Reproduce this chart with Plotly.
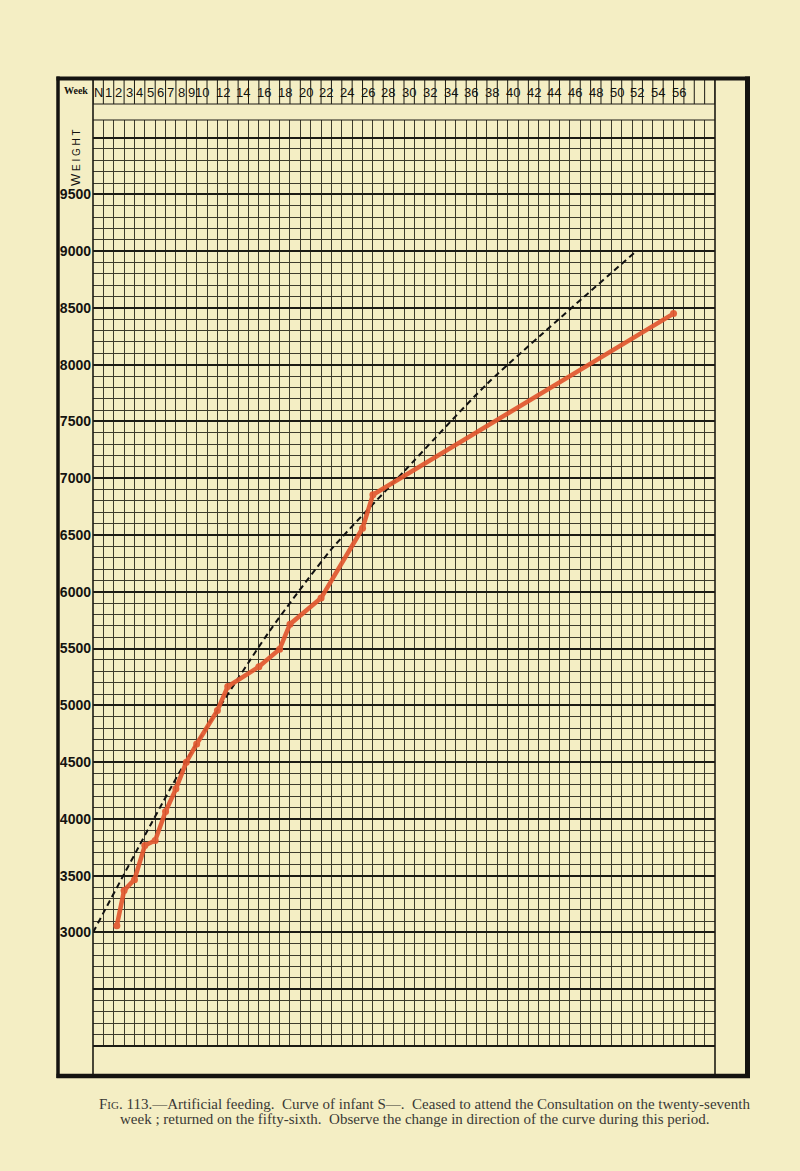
import plotly.graph_objects as go

# ---------------- data ----------------
weeks_infant = [2.3, 3, 4, 5, 6, 7, 8, 9, 10, 12, 13, 16, 18, 19, 22, 26, 27, 56]
weight_infant = [3060, 3370, 3465, 3765, 3810, 4065, 4265, 4500, 4660, 4955, 5165,
                 5340, 5495, 5715, 5945, 6560, 6855, 8450]

weeks_normal = [0, 9, 17, 23, 30, 38, 52.4]
weight_normal = [3000, 4515, 5650, 6375, 7060, 7830, 9000]

header_weeks = [0, 1, 2, 3, 4, 5, 6, 7, 8, 9, 10, 12, 14, 16, 18, 20, 22, 24, 26, 28,
                30, 32, 34, 36, 38, 40, 42, 44, 46, 48, 50, 52, 54, 56]
header_labels = ["N", "1", "2", "3", "4", "5", "6", "7", "8", "9", "10", "12", "14", "16",
                 "18", "20", "22", "24", "26", "28", "30", "32", "34", "36", "38", "40",
                 "42", "44", "46", "48", "50", "52", "54", "56"]

weight_ticks = [2000, 2500, 3000, 3500, 4000, 4500, 5000, 5500, 6000, 6500, 7000,
                7500, 8000, 8500, 9000, 9500, 10000]
weight_labels = ["", "", "3000", "3500", "4000", "4500", "5000", "5500", "6000", "6500",
                 "7000", "7500", "8000", "8500", "9000", "9500", ""]

caption_1 = ("F<span style='font-size:11px'>IG</span>. 113.—Artificial feeding.  Curve of infant S—.  "
             "Ceased to attend the Consultation on the twenty-seventh")
caption_2 = "week ; returned on the fifty-sixth.  Observe the change in direction of the curve during this period."

# ---------------- layout geometry ----------------
W, H = 800, 1171
L, R = 93, 715
T, B = 120, 1046
N_COLS = 60
Y_TOP = 10155

def px(x):
    return (x - L) / (R - L)

def py(y):
    return (B - y) / (B - T)

PAPER = "#F4EEC4"
GRID = "#3d3b2c"
HEAVY = "#1c1b14"
INK = "#141310"
SANS = "Liberation Sans Narrow, Liberation Sans, Arial, sans-serif"

minor_vals = [v for v in range(2100, 10100, 100) if v % 500 != 0]

fig = go.Figure()
fig.add_trace(go.Scatter(
    x=weeks_normal, y=weight_normal, mode="lines",
    line=dict(color="#111111", width=2, dash="6px,4px", shape="spline", smoothing=0.6),
    hoverinfo="skip", showlegend=False))
fig.add_trace(go.Scatter(
    x=weeks_infant, y=weight_infant, mode="lines+markers",
    line=dict(color="#E2572F", width=4.5),
    marker=dict(color="#E2572F", size=7),
    opacity=0.92, showlegend=False))

shapes = []
# header cell dividers
for k in range(N_COLS + 1):
    shapes.append(dict(type="line", xref="x", yref="paper", x0=k, x1=k,
                       y0=py(104), y1=py(79), line=dict(color=HEAVY, width=1)))
# header bottom, grid top and bottom
shapes.append(dict(type="line", xref="paper", yref="paper", x0=0, x1=1, y0=py(104), y1=py(104),
                   line=dict(color=HEAVY, width=1.2)))
shapes.append(dict(type="line", xref="paper", yref="paper", x0=0, x1=1, y0=1, y1=1,
                   line=dict(color=HEAVY, width=1)))
shapes.append(dict(type="line", xref="paper", yref="paper", x0=0, x1=1, y0=0, y1=0,
                   line=dict(color=HEAVY, width=2.2)))
# inner verticals
for xv in (L, R):
    shapes.append(dict(type="line", xref="paper", yref="paper", x0=px(xv), x1=px(xv),
                       y0=py(1076), y1=py(79), line=dict(color=HEAVY, width=1.6)))
# thick frame
shapes.append(dict(type="line", xref="paper", yref="paper", x0=px(56.5), x1=px(750), y0=py(78.5), y1=py(78.5),
                   line=dict(color=INK, width=4)))
shapes.append(dict(type="line", xref="paper", yref="paper", x0=px(56.5), x1=px(750), y0=py(1076), y1=py(1076),
                   line=dict(color=INK, width=4.5)))
shapes.append(dict(type="line", xref="paper", yref="paper", x0=px(58), x1=px(58), y0=py(1078), y1=py(76.5),
                   line=dict(color=INK, width=3.5)))
shapes.append(dict(type="line", xref="paper", yref="paper", x0=px(747.5), x1=px(747.5), y0=py(1078), y1=py(76.5),
                   line=dict(color=INK, width=5)))

annotations = []
for wk, lab in zip(header_weeks, header_labels):
    annotations.append(dict(x=wk + 0.5, xref="x", y=py(92), yref="paper", text=lab,
                            showarrow=False, xanchor="center", yanchor="middle",
                            font=dict(family=SANS, size=13, color=INK)))
annotations.append(dict(x=px(76), y=py(91), xref="paper", yref="paper", text="<b>Week</b>",
                        showarrow=False, xanchor="center", yanchor="middle",
                        font=dict(family="Liberation Serif, serif", size=10, color=INK)))
annotations.append(dict(x=px(75), y=py(158), xref="paper", yref="paper",
                        text="W<span style='font-size:10px'> E I G H T</span>", textangle=-90,
                        showarrow=False, xanchor="center", yanchor="middle",
                        font=dict(family="Liberation Sans, sans-serif", size=13, color=INK)))
annotations.append(dict(x=px(97), y=py(1104), xref="paper", yref="paper", text=caption_1,
                        showarrow=False, xanchor="left", yanchor="middle",
                        font=dict(family="Liberation Serif, serif", size=15, color="#3a3935")))
annotations.append(dict(x=px(118), y=py(1119), xref="paper", yref="paper", text=caption_2,
                        showarrow=False, xanchor="left", yanchor="middle",
                        font=dict(family="Liberation Serif, serif", size=15, color="#3a3935")))

fig.update_layout(
    width=W, height=H,
    margin=dict(l=L, r=W - R, t=T, b=H - B, pad=0),
    paper_bgcolor=PAPER, plot_bgcolor=PAPER,
    shapes=shapes, annotations=annotations,
    showlegend=False,
    xaxis=dict(range=[0, N_COLS], tick0=0, dtick=1, showgrid=True, gridcolor=GRID, gridwidth=1,
               showticklabels=False, ticks="", zeroline=False, showline=False, fixedrange=True,
               automargin=False),
    yaxis=dict(range=[2000, Y_TOP], tickmode="array", tickvals=weight_ticks, ticktext=weight_labels,
               showgrid=True, gridcolor=HEAVY, gridwidth=2, ticks="", zeroline=False, showline=False,
               tickfont=dict(family=SANS, size=14, color=INK, weight="bold"),
               ticklabelstandoff=1,
               minor=dict(tickmode="array", tickvals=minor_vals, showgrid=True,
                          gridcolor=GRID, gridwidth=1, ticks=""),
               fixedrange=True, automargin=False),
)

fig.write_html(
    "out.html",
    config={"displayModeBar": False, "staticPlot": True},
    post_script="document.body.style.margin='0px';document.body.style.backgroundColor='#F4EEC4';",
)
